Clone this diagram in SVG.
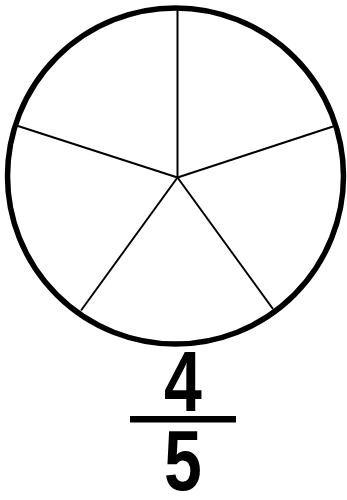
<svg xmlns="http://www.w3.org/2000/svg" width="347" height="500" viewBox="0 0 347 500">
<style>
.spoke{stroke:#000;stroke-width:2;fill:none}
.digit{font-family:"Liberation Sans",Arial,sans-serif;font-weight:bold;font-size:85px;fill:#000;text-anchor:middle}
</style>
<rect width="347" height="500" fill="#fff"/>
<g id="pie">
<circle cx="175.5" cy="176" r="168" fill="#fff" stroke="#000" stroke-width="5.5"/>
</g>
<g id="connectors">
<line class="spoke" x1="177.5" y1="177.5" x2="177.5" y2="10"/>
<line class="spoke" x1="177.5" y1="177.5" x2="333" y2="126.5"/>
<line class="spoke" x1="177.5" y1="177.5" x2="273" y2="309"/>
<line class="spoke" x1="177.5" y1="177.5" x2="81" y2="310.5"/>
<line class="spoke" x1="177.5" y1="177.5" x2="18" y2="126"/>
</g>
<g id="fraction">
<text class="digit" transform="translate(183,411) scale(0.8,1)">4</text>
<rect x="130" y="416" width="106" height="6.5" fill="#000"/>
<text class="digit" transform="translate(183,490) scale(0.8,1)">5</text>
</g>
</svg>
